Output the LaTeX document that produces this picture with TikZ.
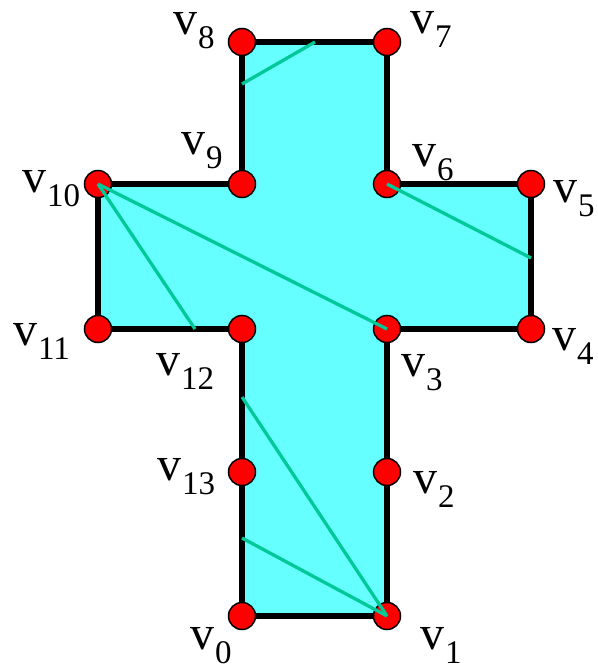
\documentclass[tikz,border=0pt]{standalone}
\usepackage{fontspec}
\setmainfont{Liberation Serif}
\definecolor{polyfill}{RGB}{102,255,255}
\definecolor{diagc}{RGB}{0,200,150}
\definecolor{vred}{RGB}{255,0,0}
\newcommand{\vlab}[1]{\fontsize{48}{48}\selectfont v\kern1pt\raisebox{-14pt}{\fontsize{33}{33}\selectfont #1}}
\tikzset{
  vert/.style={circle,fill=vred,draw=black,line width=1.5pt,minimum size=27pt,inner sep=0pt},
  edge/.style={draw=black,line width=5.5pt,line join=miter},
  diag/.style={draw=diagc,line width=3.3pt},
  vlabel/.style={anchor=base west,inner sep=0pt,outer sep=0pt}
}
\begin{document}
\begin{tikzpicture}[x=1pt,y=-1pt]
\useasboundingbox[fill=white] (0,0) rectangle (597,666);
% vertex positions
\coordinate (p0) at (242,616);
\coordinate (p1) at (387,616);
\coordinate (p2) at (387,472);
\coordinate (p3) at (387,329);
\coordinate (p4) at (531,329);
\coordinate (p5) at (531,184);
\coordinate (p6) at (387,184);
\coordinate (p7) at (387,42);
\coordinate (p8) at (242,42);
\coordinate (p9) at (242,184);
\coordinate (p10) at (98,184);
\coordinate (p11) at (98,329);
\coordinate (p12) at (242,329);
\coordinate (p13) at (242,472);
% free ends of diagonals
\coordinate (a8) at (242,84);
\coordinate (a7) at (315,42);
\coordinate (a12) at (195,329);
\coordinate (a5) at (531,258);
\coordinate (a13u) at (242,397);
\coordinate (a13d) at (242,538);
% polygon
\fill[polyfill] (p0) -- (p1) -- (p2) -- (p3) -- (p4) -- (p5) -- (p6) -- (p7) -- (p8) -- (p9) -- (p10) -- (p11) -- (p12) -- (p13) -- cycle;
\path[edge] (p0) -- (p1) -- (p2) -- (p3) -- (p4) -- (p5) -- (p6) -- (p7) -- (p8) -- (p9) -- (p10) -- (p11) -- (p12) -- (p13) -- cycle;
% vertices
\foreach \i in {0,...,13} { \node[vert] (v\i) at (p\i) {}; }
% diagonals
\draw[diag] (a8) -- (a7);
\draw[diag] (v10.center) -- (v3.center);
\draw[diag] (v10.center) -- (a12);
\draw[diag] (v6.center) -- (a5);
\draw[diag] (v1.center) -- (a13u);
\draw[diag] (v1.center) -- (a13d);
% labels
\node[vlabel] (l8) at (173,35) {\vlab{8}};
\node[vlabel] (l7) at (410,34) {\vlab{7}};
\node[vlabel] (l9) at (181,154) {\vlab{9}};
\node[vlabel] (l10) at (22,192) {\vlab{10}};
\node[vlabel] (l6) at (412,166) {\vlab{6}};
\node[vlabel] (l5) at (553,202) {\vlab{5}};
\node[vlabel] (l4) at (552,350) {\vlab{4}};
\node[vlabel] (l11) at (13,345) {\vlab{11}};
\node[vlabel] (l12) at (156,375) {\vlab{12}};
\node[vlabel] (l3) at (401,376) {\vlab{3}};
\node[vlabel] (l13) at (157,480) {\vlab{13}};
\node[vlabel] (l2) at (413,493) {\vlab{2}};
\node[vlabel] (l0) at (190,649) {\vlab{0}};
\node[vlabel] (l1) at (420,649) {\vlab{1}};
\end{tikzpicture}
\end{document}
